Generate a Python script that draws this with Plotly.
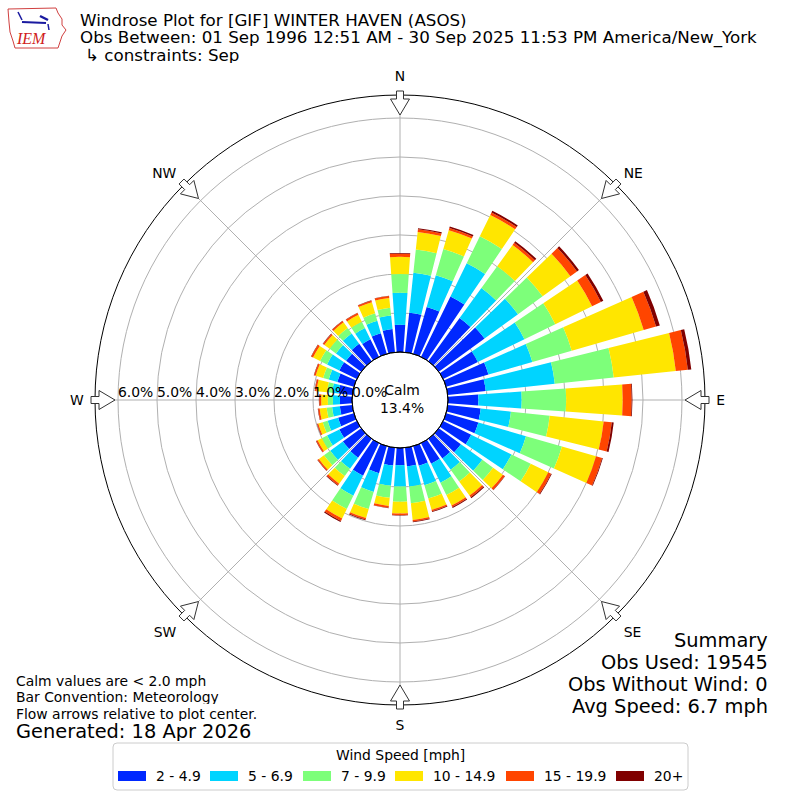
import math
import plotly.graph_objects as go

# ---------------- data ----------------
DIRECTIONS = [0, 10, 20, 30, 40, 50, 60, 70, 80, 90, 100, 110, 120, 130, 140, 150, 160, 170,
              180, 190, 200, 210, 220, 230, 240, 250, 260, 270, 280, 290, 300, 310, 320, 330, 340, 350]

SPEED_LABELS = ["2 - 4.9", "5 - 6.9", "7 - 9.9", "10 - 14.9", "15 - 19.9", "20+"]
SPEED_COLORS = ["#0028ff", "#00d4ff", "#7dff7a", "#ffe600", "#ff4500", "#800000"]

# percent of observations per direction for each speed bin
SPD_2_5 = [0.70, 1.02, 1.25, 1.72, 1.37, 1.45, 0.99, 1.13, 0.98, 0.78, 0.85, 0.86, 0.80, 0.70, 0.62, 0.59, 0.52, 0.48,
           0.44, 0.46, 0.72, 0.93, 0.60, 0.58, 0.50, 0.42, 0.32, 0.31, 0.35, 0.44, 0.50, 0.48, 0.55, 0.50, 0.55, 0.60]
SPD_5_7 = [0.82, 1.03, 0.85, 0.95, 0.95, 1.06, 1.33, 1.17, 1.78, 1.11, 0.78, 1.27, 1.15, 0.68, 0.36, 0.54, 0.52, 0.52,
           0.55, 0.52, 0.50, 0.57, 0.35, 0.40, 0.35, 0.28, 0.20, 0.18, 0.17, 0.23, 0.35, 0.32, 0.33, 0.32, 0.33, 0.35]
SPD_7_10 = [0.48, 0.60, 0.70, 0.77, 0.69, 0.78, 0.88, 1.05, 1.52, 1.14, 1.00, 0.96, 0.55, 0.34, 0.37, 0.35, 0.36, 0.43,
            0.39, 0.31, 0.46, 0.38, 0.23, 0.20, 0.15, 0.13, 0.14, 0.13, 0.13, 0.15, 0.20, 0.20, 0.17, 0.18, 0.20, 0.20]
SPD_10_15 = [0.44, 0.45, 0.50, 0.61, 0.67, 0.88, 1.05, 1.92, 1.60, 1.45, 1.39, 0.91, 0.50, 0.31, 0.45, 0.30, 0.30, 0.43,
             0.30, 0.21, 0.24, 0.27, 0.24, 0.16, 0.12, 0.12, 0.18, 0.17, 0.27, 0.20, 0.20, 0.17, 0.18, 0.20, 0.30, 0.25]
SPD_15_20 = [0.08, 0.07, 0.06, 0.07, 0.07, 0.21, 0.25, 0.33, 0.31, 0.23, 0.21, 0.16, 0.08, 0.06, 0.05, 0.04, 0.04, 0.04,
             0.04, 0.05, 0.04, 0.07, 0.05, 0.04, 0.04, 0.03, 0.04, 0.05, 0.04, 0.04, 0.05, 0.04, 0.04, 0.05, 0.04, 0.05]
SPD_20P = [0.02, 0.03, 0.04, 0.05, 0.05, 0.06, 0.07, 0.10, 0.09, 0.02, 0.05, 0.02, 0.02, 0.01, 0.03, 0.03, 0.02, 0.02,
           0.01, 0.01, 0.02, 0.03, 0.02, 0.01, 0.01, 0.01, 0.01, 0.01, 0.01, 0.01, 0.01, 0.01, 0.01, 0.01, 0.01, 0.01]
SPEED_BINS = [SPD_2_5, SPD_5_7, SPD_7_10, SPD_10_15, SPD_15_20, SPD_20P]

RADIAL_TICKS = [0, 1, 2, 3, 4, 5, 6]
RADIAL_TICKTEXT = ["0.0%", "1.0%", "2.0%", "3.0%", "4.0%", "5.0%", "6.0%"]
COMPASS_ANGLES = [0, 45, 90, 135, 180, 225, 270, 315]
COMPASS_LABELS = ["N", "NE", "E", "SE", "S", "SW", "W", "NW"]
CALM_PCT = 13.4

TITLE_LINES = ["Windrose Plot for [GIF] WINTER HAVEN (ASOS)",
               "Obs Between: 01 Sep 1996 12:51 AM - 30 Sep 2025 11:53 PM America/New_York",
               "\u21b3 constraints: Sep"]
NOTE_LINES = ["Calm values are < 2.0 mph", "Bar Convention: Meteorology", "Flow arrows relative to plot center."]
GENERATED = "Generated: 18 Apr 2026"
SUMMARY_LINES = ["Summary", "Obs Used: 19545", "Obs Without Wind: 0", "Avg Speed: 6.7 mph"]
LEGEND_TITLE = "Wind Speed [mph]"

# ---------------- geometry (pixels) ----------------
W = H = 800
CX, CY = 400, 400
R_OUT = 305
R_HOLE = 48
R_MAX = 6.59
FONT = "DejaVu Sans"
FS = 13.9


def px(x):
    return x / W


def py(y):
    return 1 - y / H


def r_to_px(v):
    return R_HOLE + v * (R_OUT - R_HOLE) / R_MAX


fig = go.Figure()
for vals, name, col in zip(SPEED_BINS, SPEED_LABELS, SPEED_COLORS):
    fig.add_trace(go.Barpolar(r=vals, theta=DIRECTIONS, width=8, name=name,
                              marker=dict(color=col, line=dict(width=0)),
                              showlegend=False))

shapes = []
# hollow flow arrows pointing to the centre
for ang in COMPASS_ANGLES:
    a = math.radians(ang)
    ux, uy = math.sin(a), -math.cos(a)
    vx, vy = -uy, ux

    def pt(r, w):
        return (CX + ux * r + vx * w, CY + uy * r + vy * w)
    pts = [pt(309, -3.5), pt(301, -3.5), pt(301, -9.5), pt(285, 0), pt(301, 9.5), pt(301, 3.5), pt(309, 3.5)]
    path = "M " + " L ".join(f"{px(x):.5f},{py(y):.5f}" for x, y in pts) + " Z"
    shapes.append(dict(type="path", xref="paper", yref="paper", path=path,
                       line=dict(color="#333333", width=1), fillcolor="white", layer="above"))

# calm circle border
shapes.append(dict(type="circle", xref="paper", yref="paper",
                   x0=px(CX - R_HOLE), x1=px(CX + R_HOLE), y0=py(CY + R_HOLE), y1=py(CY - R_HOLE),
                   line=dict(color="black", width=1), layer="above"))

# legend box (rounded)
lx0, lx1, ly0, ly1, rr = 113, 688, 743, 790, 4
lpath = (f"M {px(lx0+rr)},{py(ly0)} L {px(lx1-rr)},{py(ly0)} Q {px(lx1)},{py(ly0)} {px(lx1)},{py(ly0+rr)} "
         f"L {px(lx1)},{py(ly1-rr)} Q {px(lx1)},{py(ly1)} {px(lx1-rr)},{py(ly1)} "
         f"L {px(lx0+rr)},{py(ly1)} Q {px(lx0)},{py(ly1)} {px(lx0)},{py(ly1-rr)} "
         f"L {px(lx0)},{py(ly0+rr)} Q {px(lx0)},{py(ly0)} {px(lx0+rr)},{py(ly0)} Z")
shapes.append(dict(type="path", xref="paper", yref="paper", path=lpath,
                   line=dict(color="#cccccc", width=1), fillcolor="white"))

annotations = []
LEG_X = [118, 210, 303, 395, 506, 616]
for x0, name, col in zip(LEG_X, SPEED_LABELS, SPEED_COLORS):
    shapes.append(dict(type="rect", xref="paper", yref="paper", x0=px(x0), x1=px(x0 + 28),
                       y0=py(781), y1=py(771), fillcolor=col, line=dict(width=0)))
    annotations.append(dict(x=px(x0 + 36), y=py(776), xref="paper", yref="paper", text=name,
                            showarrow=False, xanchor="left", yanchor="middle",
                            font=dict(size=FS, color="black", family=FONT)))
annotations.append(dict(x=px((lx0 + lx1) / 2), y=py(755), xref="paper", yref="paper", text=LEGEND_TITLE,
                        showarrow=False, xanchor="center", yanchor="middle",
                        font=dict(size=FS, color="black", family=FONT)))

# logo (IEM)
logo_pts = [(8, 9), (56, 8), (58, 13), (62, 19), (62, 25), (66, 30), (62, 36), (60, 42), (58, 48),
            (15, 48), (13, 41), (10, 32), (9, 22)]
logo_path = "M " + " L ".join(f"{px(x):.5f},{py(y):.5f}" for x, y in logo_pts) + " Z"
shapes.append(dict(type="path", xref="paper", yref="paper", path=logo_path,
                   line=dict(color="#d04040", width=1), fillcolor="white"))
for (x0, y0, x1, y1, w) in [(22, 22, 46, 23, 2), (18, 12, 22, 20, 1.5), (40, 16, 48, 20, 2.5), (48, 24, 49, 30, 1.5)]:
    shapes.append(dict(type="line", xref="paper", yref="paper", x0=px(x0), y0=py(y0), x1=px(x1), y1=py(y1),
                       line=dict(color="#1a1aa0", width=w)))
annotations.append(dict(x=px(31), y=py(39), xref="paper", yref="paper", text="<i>IEM</i>",
                        showarrow=False, xanchor="center", yanchor="middle",
                        font=dict(size=16, color="#d02020", family="Liberation Serif")))

# titles
TITLE_H = [17, 22, 17]
for i, t in enumerate(TITLE_LINES):
    annotations.append(dict(x=px(78 if i < 2 else 83), y=py(19 + 18 * i), xref="paper", yref="paper",
                            text=t, showarrow=False, xanchor="left", yanchor="middle", height=TITLE_H[i],
                            font=dict(size=16.7, color="black", family=FONT)))
# notes
for i, t in enumerate(NOTE_LINES):
    annotations.append(dict(x=px(14), y=py(680 + 16.5 * i), xref="paper", yref="paper",
                            text=t, showarrow=False, xanchor="left", yanchor="middle", height=15,
                            font=dict(size=FS, color="black", family=FONT)))
annotations.append(dict(x=px(14), y=py(731), xref="paper", yref="paper", text=GENERATED,
                        showarrow=False, xanchor="left", yanchor="middle", height=19,
                        font=dict(size=19.4, color="black", family=FONT)))
for i, t in enumerate(SUMMARY_LINES):
    annotations.append(dict(x=px(770), y=py(640 + 22 * i), xref="paper", yref="paper",
                            text=t, showarrow=False, xanchor="right", yanchor="middle", height=21,
                            font=dict(size=19.4, color="black", family=FONT)))
# calm
annotations.append(dict(x=px(CX + 2), y=py(CY - 1), xref="paper", yref="paper",
                        text=f"Calm<br>{CALM_PCT:.1f}%", showarrow=False, xanchor="center", yanchor="middle",
                        font=dict(size=FS, color="black", family=FONT)))
# radial tick labels along the west axis
for v, t in zip(RADIAL_TICKS, RADIAL_TICKTEXT):
    annotations.append(dict(x=px(CX - r_to_px(v) - 2), y=py(392), xref="paper", yref="paper",
                            text=t, showarrow=False, xanchor="left", yanchor="middle",
                            font=dict(size=FS, color="black", family=FONT)))

fig.update_layout(
    width=W, height=H, autosize=False,
    margin=dict(l=0, r=0, t=0, b=0),
    paper_bgcolor="white",
    font=dict(family=FONT, color="black"),
    polar=dict(
        domain=dict(x=[px(CX - R_OUT), px(CX + R_OUT)], y=[py(CY + R_OUT), py(CY - R_OUT)]),
        hole=R_HOLE / R_OUT,
        bgcolor="white",
        barmode="stack",
        radialaxis=dict(range=[0, R_MAX], tickvals=RADIAL_TICKS, ticktext=RADIAL_TICKTEXT,
                        showticklabels=False, showline=False, gridcolor="#b0b0b0", gridwidth=1,
                        ticks="", angle=180, layer="above traces"),
        angularaxis=dict(rotation=90, direction="clockwise", tickmode="array",
                         tickvals=COMPASS_ANGLES, ticktext=COMPASS_LABELS,
                         gridcolor="#b0b0b0", gridwidth=1, showline=True, linecolor="black", linewidth=1,
                         ticks="outside", ticklen=8, tickcolor="rgba(0,0,0,0)", layer="above traces",
                         tickfont=dict(size=FS, family=FONT, color="black")),
    ),
    shapes=shapes,
    annotations=annotations,
)

fig.write_html("out.html", config={"displayModeBar": False},
               post_script="document.body.style.margin='0px';")
